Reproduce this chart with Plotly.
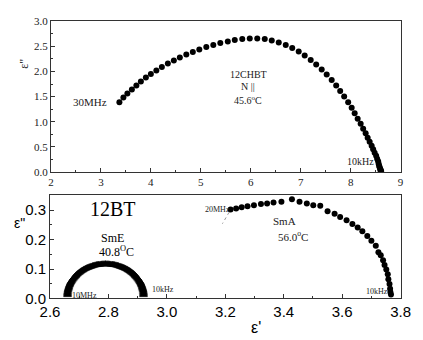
import plotly.graph_objects as go

# ---- data ----
chbt_x = [3.37, 3.45, 3.53, 3.62, 3.71, 3.80, 3.90, 4.00, 4.11, 4.22, 4.34, 4.46, 4.58, 4.71,
          4.84, 4.97, 5.11, 5.25, 5.39, 5.54, 5.68, 5.83, 5.98, 6.13, 6.28, 6.42, 6.56, 6.70,
          6.83, 6.96, 7.08, 7.20, 7.31, 7.42, 7.52, 7.62, 7.71, 7.79, 7.87, 7.95, 8.02, 8.08,
          8.14, 8.20, 8.25, 8.30, 8.34, 8.38, 8.42, 8.45, 8.48, 8.51, 8.53, 8.55, 8.56, 8.57,
          8.58, 8.59, 8.60, 8.60, 8.61]
chbt_y = [1.39, 1.48, 1.56, 1.64, 1.72, 1.80, 1.88, 1.95, 2.02, 2.09, 2.16, 2.22, 2.28, 2.34,
          2.39, 2.44, 2.49, 2.53, 2.57, 2.60, 2.63, 2.65, 2.66, 2.66, 2.65, 2.62, 2.58, 2.53,
          2.47, 2.40, 2.32, 2.23, 2.14, 2.04, 1.94, 1.83, 1.72, 1.61, 1.50, 1.39, 1.28, 1.17,
          1.06, 0.96, 0.86, 0.77, 0.68, 0.60, 0.52, 0.45, 0.38, 0.32, 0.26, 0.21, 0.16, 0.12,
          0.09, 0.06, 0.04, 0.02, 0.01]

sme_x = [2.660, 2.660, 2.660, 2.6605, 2.661, 2.662, 2.663, 2.664, 2.665, 2.6665, 2.668, 2.6695,
         2.671, 2.673, 2.675, 2.6775, 2.680, 2.6825, 2.685, 2.6875, 2.690, 2.693, 2.696, 2.6995,
         2.703, 2.7065, 2.710, 2.7135, 2.717, 2.721, 2.725, 2.729, 2.733, 2.737, 2.741, 2.7455,
         2.750, 2.7545, 2.759, 2.763, 2.767, 2.7715, 2.776, 2.7805, 2.785, 2.790, 2.795, 2.7995,
         2.804, 2.8085, 2.813, 2.817, 2.821, 2.8255, 2.830, 2.8345, 2.839, 2.843, 2.847, 2.851,
         2.855, 2.859, 2.863, 2.8665, 2.870, 2.8735, 2.877, 2.8805, 2.884, 2.887, 2.890, 2.8925,
         2.895, 2.8975, 2.900, 2.9025, 2.905, 2.907, 2.909, 2.9105, 2.912, 2.9135, 2.915, 2.916,
         2.917, 2.918, 2.919, 2.9195, 2.920, 2.920, 2.920]
sme_y = [0.012, 0.0155, 0.019, 0.023, 0.027, 0.0305, 0.034, 0.0375, 0.041, 0.0445, 0.048, 0.0515,
         0.055, 0.058, 0.061, 0.0645, 0.068, 0.071, 0.074, 0.0765, 0.079, 0.082, 0.085, 0.0875,
         0.090, 0.0925, 0.095, 0.097, 0.099, 0.101, 0.103, 0.1045, 0.106, 0.1075, 0.109, 0.1105,
         0.112, 0.113, 0.114, 0.1145, 0.115, 0.1155, 0.116, 0.1165, 0.117, 0.117, 0.117, 0.1165,
         0.116, 0.1155, 0.115, 0.1145, 0.114, 0.113, 0.112, 0.1105, 0.109, 0.1075, 0.106, 0.1045,
         0.103, 0.101, 0.099, 0.097, 0.095, 0.0925, 0.090, 0.0875, 0.085, 0.082, 0.079, 0.0765,
         0.074, 0.071, 0.068, 0.0645, 0.061, 0.058, 0.055, 0.0515, 0.048, 0.0445, 0.041, 0.0375,
         0.034, 0.0305, 0.027, 0.023, 0.019, 0.0155, 0.012]

sma_x = [3.218, 3.237, 3.256, 3.276, 3.298, 3.322, 3.343, 3.365, 3.392, 3.428, 3.454, 3.479,
         3.501, 3.525, 3.550, 3.574, 3.593, 3.615, 3.635, 3.653, 3.669, 3.686, 3.700, 3.715,
         3.724, 3.732, 3.740, 3.745, 3.751, 3.756, 3.758, 3.762, 3.764, 3.765, 3.767]
sma_y = [0.302, 0.306, 0.310, 0.313, 0.317, 0.321, 0.323, 0.326, 0.329, 0.337, 0.329, 0.323,
         0.317, 0.315, 0.296, 0.288, 0.277, 0.266, 0.253, 0.241, 0.228, 0.212, 0.196, 0.179,
         0.157, 0.147, 0.130, 0.114, 0.098, 0.082, 0.065, 0.049, 0.033, 0.022, 0.013]

sma_ext_x = [3.213, 3.19]
sma_ext_y = [0.293, 0.254]

top_xticks = [2, 3, 4, 5, 6, 7, 8, 9]
top_yticks = [0.0, 0.5, 1.0, 1.5, 2.0, 2.5, 3.0]
bot_xticks = [2.6, 2.8, 3.0, 3.2, 3.4, 3.6, 3.8]
bot_yticks = [0.0, 0.1, 0.2, 0.3]

W, H = 423, 340
SERIF = "Liberation Serif, Times New Roman, serif"
SANS = "Liberation Sans, Arial, sans-serif"
LC = "#333333"

fig = go.Figure()
fig.add_trace(go.Scatter(x=chbt_x, y=chbt_y, mode="markers",
                         marker=dict(symbol="circle", size=6, color="black", line=dict(width=0)),
                         xaxis="x", yaxis="y", showlegend=False))
fig.add_trace(go.Scatter(x=sma_ext_x, y=sma_ext_y, mode="lines",
                         line=dict(color="#999999", width=1, dash="dot"),
                         xaxis="x2", yaxis="y2", showlegend=False))
fig.add_trace(go.Scatter(x=sme_x, y=sme_y, mode="markers",
                         marker=dict(symbol="triangle-up", size=7, color="black",
                                     line=dict(width=0.5, color="black")),
                         xaxis="x2", yaxis="y2", showlegend=False))
fig.add_trace(go.Scatter(x=sma_x, y=sma_y, mode="markers",
                         marker=dict(symbol="circle", size=6, color="black", line=dict(width=0)),
                         xaxis="x2", yaxis="y2", showlegend=False))

def px(x):
    return x / W

def py(y):
    return 1 - y / H

axis_common = dict(showline=True, mirror=True, linecolor=LC, linewidth=1,
                   ticks="inside", ticklen=4, tickcolor=LC, showgrid=False,
                   zeroline=False)

fig.update_layout(
    width=W, height=H, margin=dict(l=0, r=0, t=0, b=0),
    plot_bgcolor="white", paper_bgcolor="white",
    xaxis=dict(domain=[px(43), px(410)], range=[2, 9], anchor="y",
               tickvals=top_xticks, tickfont=dict(family=SERIF, size=11, color="#222"),
               minor=dict(ticks="inside", ticklen=2, dtick=0.5, tickcolor=LC),
               **axis_common),
    yaxis=dict(domain=[py(173), py(16)], range=[0, 3], anchor="x",
               tickvals=top_yticks, tickformat=".1f",
               tickfont=dict(family=SERIF, size=11, color="#222"),
               minor=dict(ticks="inside", ticklen=2, dtick=0.25, tickcolor=LC),
               **axis_common),
    xaxis2=dict(domain=[px(42), px(410)], range=[2.6, 3.8], anchor="y2",
                tickvals=bot_xticks, tickformat=".1f",
                tickfont=dict(family=SANS, size=15, color="black"),
                minor=dict(ticks="inside", ticklen=2, dtick=0.1, tickcolor=LC),
                **axis_common),
    yaxis2=dict(domain=[py(305), py(197)], range=[0, 0.352], anchor="x2",
                tickvals=bot_yticks, tickformat=".1f",
                tickfont=dict(family=SANS, size=15, color="black"),
                minor=dict(ticks="inside", ticklen=2, dtick=0.05, tickcolor=LC),
                **axis_common),
)

def ann(text, x, y, size, family=SERIF, xanchor="center", color="#222", angle=0):
    fig.add_annotation(text=text, x=px(x), y=py(y), xref="paper", yref="paper",
                       showarrow=False, xanchor=xanchor, yanchor="middle",
                       font=dict(family=family, size=size, color=color), textangle=angle)

# top panel texts
ann("ε\"", 14, 60, 12, angle=-90)
ann("30MHz", 104, 100, 11, xanchor="right")
ann("12CHBT", 250, 71, 10)
ann("N ||", 250, 84, 10)
ann("45.6<sup>o</sup>C", 250, 98, 10)
ann("10kHz", 384, 162, 10, xanchor="right")

# bottom panel texts
ann("ε\"", 10, 226, 14, family=SANS, color="black")
ann("12BT", 108, 212, 20, color="black")
ann("SmE", 108, 242, 12, color="black")
ann("40.8<sup>O</sup>C", 112, 256, 12, color="black")
ann("10MHz", 63, 302, 8, xanchor="left")
ann("10kHz", 147, 296, 8, xanchor="left")
ann("20MHz", 203, 212, 8, xanchor="left")
ann("SmA", 288, 224, 11)
ann("56.0<sup>o</sup>C", 297, 240, 11)
ann("10kHz", 372, 298, 8, xanchor="left")
ann("ε'", 258, 335, 16, family=SANS, color="black")

fig.write_html("out.html")
